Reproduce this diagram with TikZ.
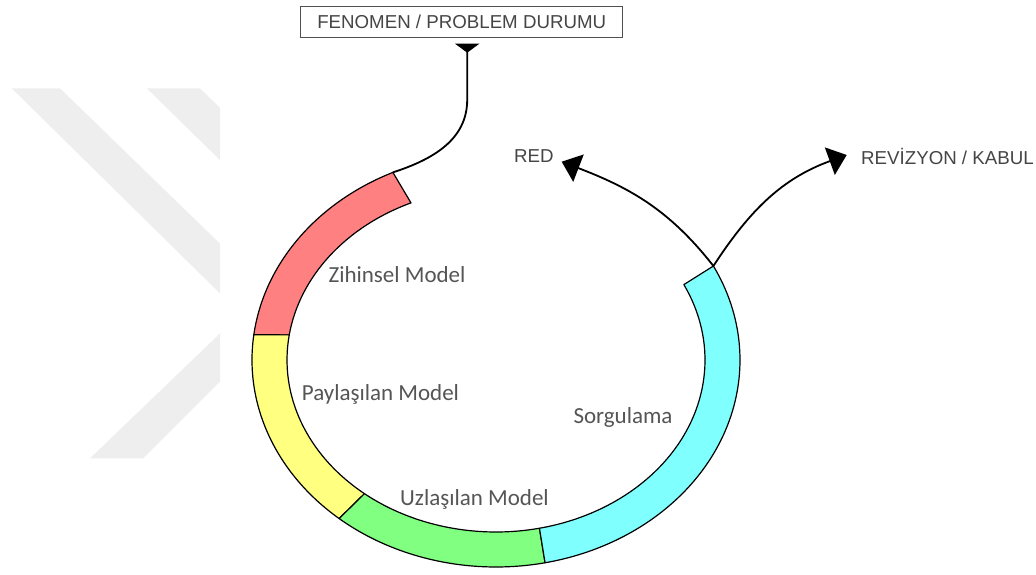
\documentclass[tikz,border=0pt]{standalone}
\usepackage{fontspec}
\setmainfont{Liberation Sans}
\newfontfamily\cycstagefont{Carlito}
\usetikzlibrary{arrows.meta}
\definecolor{cycink}{HTML}{000000}
\definecolor{cyctext}{HTML}{454545}
\definecolor{cycstagetext}{HTML}{555555}
\definecolor{cycframe}{HTML}{505050}
\definecolor{cycred}{HTML}{FF8080}
\definecolor{cycyellow}{HTML}{FFFF80}
\definecolor{cycgreen}{HTML}{80FF80}
\definecolor{cyccyan}{HTML}{80FFFF}
\definecolor{cycmark}{HTML}{EEEEEE}
\tikzset{
  cycsegment/.style={
    draw=cycink,
    line width=1.2pt,
    line join=round
  },
  cycbox/.style={
    draw=cycframe,
    line width=1pt,
    minimum width=322pt,
    minimum height=31pt,
    inner sep=0pt,
    text height=13.4pt,
    text depth=0pt,
    font=\fontsize{18.7}{20}\selectfont,
    text=cyctext
  },
  cycoutcome/.style={
    anchor=base west,
    inner sep=0pt,
    font=\fontsize{18.7}{20}\selectfont,
    text=cyctext
  },
  cycstage/.style={
    anchor=base west,
    inner sep=0pt,
    font=\cycstagefont\fontsize{23}{26}\selectfont,
    text=cycstagetext
  },
  cyclink/.style={
    draw=cycink,
    line width=1.8pt
  },
  cycarrow/.style={
    cyclink,
    -{Triangle[length=18pt,width=29pt]}
  }
}
% ring piece: #1 fill, #2/#3 outer angles, #4/#5 inner angles
\newcommand{\cycpiece}[5]{%
  \filldraw[cycsegment, fill=#1]
    ([shift={(#2:244 and 207)}]ringc) arc[start angle=#2, end angle=#3, x radius=244, y radius=207]
    -- ([shift={(#4:209 and 172)}]ringc) arc[start angle=#4, end angle=#5, x radius=209, y radius=172]
    -- cycle;}

\begin{document}
\begin{tikzpicture}[x=1pt,y=1pt]
  \useasboundingbox (0,0) rectangle (1036,574);

  % faint mark behind the left side
  \begin{scope}
    \clip (0,0) rectangle (220,574);
    \fill[cycmark] (11.7,485.7) -- (60,485.7) -- (290,262.4) -- (143.3,115.7)
      -- (90,115.7) -- (240.5,260.3) -- cycle;
    \fill[cycmark] (146.7,485.7) -- (200,485.7) -- (300,387.9) -- (300,335.7) -- cycle;
  \end{scope}

  \coordinate (ringc) at (496,214);
  \cycpiece{cycred}{115}{173}{171.6}{114}
  \cycpiece{cycyellow}{173}{230}{231}{171.6}
  \cycpiece{cycgreen}{230}{281.6}{282}{231}
  \cycpiece{cyccyan}{281.6}{387}{386}{282}

  \coordinate (redtop) at ([shift={(115:244 and 207)}]ringc);
  \coordinate (cyantop) at ([shift={(27:244 and 207)}]ringc);
  \coordinate (redtip) at (561.7,412.3);
  \coordinate (revtip) at (846.7,419);

  \node[cycbox] (problem) at (461.7,552.3) {FENOMEN / PROBLEM DURUMU};
  \node[cycoutcome] (red) at (514,411) {RED};
  \node[cycoutcome] (revizyon) at (861,409.4) {REVİZYON / KABUL};

  \node[cycstage] (zihinsel) at (328.3,291.3) {Zihinsel Model};
  \node[cycstage] (paylasilan) at (301.7,173.5) {Paylaşılan Model};
  \node[cycstage] (uzlasilan) at (400,68.3) {Uzlaşılan Model};
  \node[cycstage] (sorgulama) at (573.3,150.7) {Sorgulama};

  \draw[cyclink, {Triangle[reversed,width=24pt,length=9pt]}-, shorten <=6pt]
    ([xshift=5.5pt]problem.south) -- ++(0,-62) to[out=-90,in=18] (redtop);
  \draw[cycarrow] (cyantop) to[out=128,in=-21] (redtip);
  \draw[cycarrow] (cyantop) to[out=57,in=200] (revtip);
\end{tikzpicture}
\end{document}
